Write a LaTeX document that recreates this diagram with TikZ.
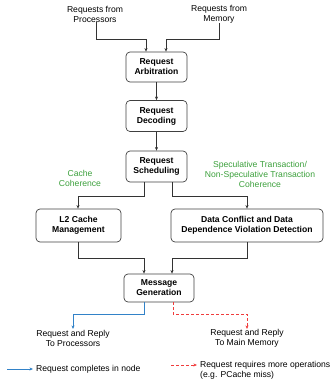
\documentclass[tikz,border=0pt]{standalone}
\usepackage{fontspec}
\setmainfont{Liberation Sans}
\usetikzlibrary{arrows.meta}
\definecolor{cohgreen}{RGB}{60,160,60}
\definecolor{doneblue}{RGB}{50,130,200}
\definecolor{morered}{RGB}{240,60,60}
\begin{document}
\begin{tikzpicture}[x=1pt,y=-1pt,
  font=\fontsize{8.6}{10}\selectfont,
  stage/.style={draw=black!75,line width=0.7pt,rounded corners=4pt,align=center,
    font=\fontsize{8.6}{10}\selectfont\bfseries,inner sep=0pt},
  lbl/.style={align=center,inner sep=0pt},
  note/.style={lbl,text=cohgreen},
  tip/.style={-{Stealth[length=3.6pt,width=3pt]}},
  flow/.style={draw=black!80,line width=0.5pt,tip},
  doneflow/.style={draw=doneblue,line width=0.6pt,tip},
  moreflow/.style={draw=morered,line width=0.6pt,dash pattern=on 3pt off 2pt,tip}]
\useasboundingbox (0,0) rectangle (336,380);

% sources
\node[lbl] (proc) at (95,14) {Requests from\\Processors};
\node[lbl] (mem) at (219,14) {Requests from\\Memory};

% pipeline stages
\node[stage,minimum width=61pt,minimum height=30pt] (arb) at (156.5,67) {Request\\Arbitration};
\node[stage,minimum width=61pt,minimum height=31pt] (dec) at (156.5,116) {Request\\Decoding};
\node[stage,minimum width=61pt,minimum height=31pt] (sch) at (156.5,166.5) {Request\\Scheduling};
\node[stage,minimum width=85pt,minimum height=33pt] (l2) at (78.5,225.5) {L2 Cache\\Management};
\node[stage,minimum width=152pt,minimum height=33pt] (dc) at (247,225.5) {Data Conflict and Data\\Dependence Violation Detection};
\node[stage,minimum width=70pt,minimum height=28pt] (msg) at (159,288) {Message\\Generation};

% annotations
\node[note] (cc) at (80,178.5) {Cache\\Coherence};
\node[note] (stc) at (260,174) {Speculative Transaction/\\Non-Speculative Transaction\\Coherence};

% outputs
\node[lbl] (toproc) at (73,338) {Request and Reply\\To Processors};
\node[lbl] (tomem) at (247,338) {Request and Reply\\To Main Memory};
\coordinate (toprocin) at (73,329);
\coordinate (tomemin) at (247,329);

% connectors
\draw[flow] (proc.south -| 96,0) |- (146,39) -- (146,0 |- arb.north);
\draw[flow] (mem.south) |- (166,39) -- (166,0 |- arb.north);
\draw[flow] (arb) -- (dec);
\draw[flow] (dec) -- (sch);
\draw[flow] (144,0 |- sch.south) |- (78,196) -- (78,0 |- l2.north);
\draw[flow] (172,0 |- sch.south) |- (247,196) -- (247,0 |- dc.north);
\draw[flow] (78,0 |- l2.south) |- (144,258) -- (144,0 |- msg.north);
\draw[flow] (247,0 |- dc.south) |- (172,258) -- (172,0 |- msg.north);
\draw[doneflow] (144,0 |- msg.south) |- (73,314) -- (toprocin);
\draw[moreflow] (173,0 |- msg.south) |- (247,314) -- (tomemin);

% legend
\coordinate (ka) at (7,369);
\coordinate (kb) at (33,369);
\draw[doneflow] (ka) -- (kb);
\node[lbl,anchor=west] (kdone) at (36,369.5) {Request completes in node};
\coordinate (kc) at (171,365);
\coordinate (kd) at (197,365);
\draw[moreflow] (kc) -- (kd);
\node[lbl,anchor=west,align=left] (kmore) at (200,370) {Request requires more operations\\(e.g. PCache miss)};
\end{tikzpicture}
\end{document}
